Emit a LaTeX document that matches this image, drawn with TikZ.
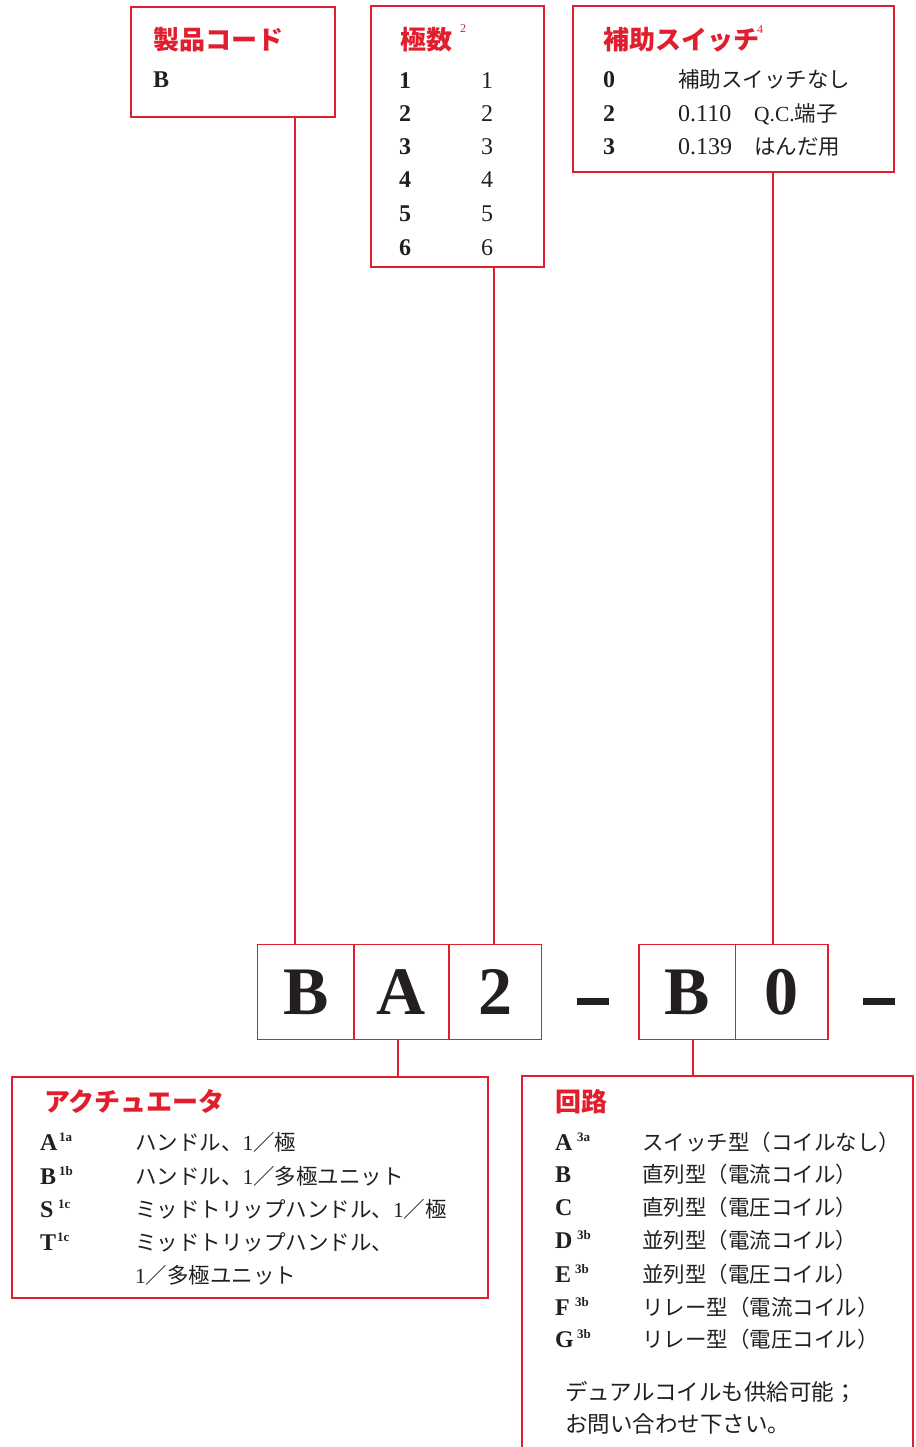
\documentclass[tikz,border=0pt]{standalone}
\usepackage{fontspec}
\setmainfont{Liberation Serif}
\newfontfamily\jp{Noto Sans CJK JP}
\definecolor{boxred}{RGB}{225,30,45}
\definecolor{ink}{RGB}{35,31,32}
\tikzset{
  box/.style={draw=boxred, line width=1.2pt, inner sep=0pt, outer sep=0pt, anchor=north west},
  conn/.style={draw=boxred, line width=1.2pt},
  head/.style={anchor=base west, inner sep=0pt, text=boxred, font=\jp\bfseries\fontsize{26}{26}\selectfont},
  hsup/.style={anchor=base west, inner sep=0pt, text=boxred, font=\fontsize{12}{12}\selectfont},
  lsup/.style={anchor=base west, inner sep=0pt, text=ink, font=\bfseries\fontsize{13}{13}\selectfont},
  lat/.style={anchor=base west, inner sep=0pt, text=ink, font=\bfseries\fontsize{24}{24}\selectfont},
  txt/.style={anchor=base west, inner sep=0pt, text=ink, font=\fontsize{24}{24}\selectfont},
  jt/.style={anchor=base west, inner sep=0pt, text=ink, font=\jp\fontsize{21.5}{21.5}\selectfont},
  code/.style={box, text=ink, font=\bfseries\fontsize{68}{68}\selectfont, minimum height=95},
  dashbar/.style={fill=ink, minimum width=32, minimum height=7, inner sep=0pt, outer sep=0pt}
}
\begin{document}
\begin{tikzpicture}[x=1pt,y=-1pt]
\useasboundingbox (0,0) rectangle (915,1447);
% top boxes
\node[box, minimum width=204, minimum height=110] (b1) at (131,7) {};
\node[box, minimum width=173, minimum height=261] (b2) at (371,6) {};
\node[box, minimum width=321, minimum height=166] (b3) at (573,6) {};
% bottom boxes
\node[box, minimum width=476, minimum height=221] (b4) at (12,1077) {};
\node[box, minimum width=391, minimum height=400] (b5) at (522,1076) {};
% code boxes
\node[code, minimum width=96.5] (c1) at (257.5,944.5) {B};
\node[code, minimum width=95] (c2) at (354,944.5) {A};
\node[code, minimum width=92.5] (c3) at (449,944.5) {2};
\node[code, minimum width=96.5] (c4) at (639,944.5) {B};
\node[code, minimum width=92.5] (c5) at (735.5,944.5) {0};
\node[dashbar] (d1) at (593,1001.5) {};
\node[dashbar] (d2) at (879,1001.5) {};
% connectors
\coordinate (xa) at (295,0);
\coordinate (xb) at (494,0);
\coordinate (xc) at (773,0);
\coordinate (xd) at (398,0);
\coordinate (xe) at (693,0);
\draw[conn] (b1.south -| xa) -- (c1.north -| xa);
\draw[conn] (b2.south -| xb) -- (c3.north -| xb);
\draw[conn] (b3.south -| xc) -- (c5.north -| xc);
\draw[conn] (c2.south -| xd) -- (b4.north -| xd);
\draw[conn] (c4.south -| xe) -- (b5.north -| xe);
% box 1
\node[head] (h1) at (153,50) {製品コード};
\node[lat] (h1b) at (153,88) {B};
% box 2
\node[head] (h2) at (400,50) {極数};
\node[hsup] (h2s) at (460,33) {2};
\foreach \n/\y in {1/89,2/122,3/155,4/188,5/222,6/255}{
  \node[lat] (p\n) at (399,\y) {\n};
  \node[txt] (q\n) at (481,\y) {\n};
}
% box 3
\node[head] (h3) at (603,50) {補助スイッチ};
\node[hsup] (h3s) at (757,34) {4};
\node[lat] (s0) at (603,88) {0};
\node[lat] (s2) at (603,122) {2};
\node[lat] (s3) at (603,155) {3};
\node[jt] (t0) at (678,88) {補助スイッチなし};
\node[txt] (t2) at (678,122) {0.110};
\node[jt] (t2b) at (754,122) {{\rmfamily Q.C.}端子};
\node[txt] (t3) at (678,155) {0.139};
\node[jt] (t3b) at (754,155) {はんだ用};
% box 4
\node[head] (h4) at (44,1111) {アクチュエータ};
\node[lat] (a1) at (40,1150) {A};
\node[lsup] (a1s) at (59,1141.5) {1a};
\node[jt] (a1d) at (135,1150) {ハンドル、{\rmfamily 1}／極};
\node[lat] (a2) at (40,1184) {B};
\node[lsup] (a2s) at (59,1175.5) {1b};
\node[jt] (a2d) at (135,1184) {ハンドル、{\rmfamily 1}／多極ユニット};
\node[lat] (a3) at (40,1217) {S};
\node[lsup] (a3s) at (58,1208.5) {1c};
\node[jt] (a3d) at (135,1217) {ミッドトリップハンドル、{\rmfamily 1}／極};
\node[lat] (a4) at (40,1250) {T};
\node[lsup] (a4s) at (57,1241.5) {1c};
\node[jt] (a4d) at (135,1250) {ミッドトリップハンドル、};
\node[jt] (a5d) at (135,1283) {{\rmfamily 1}／多極ユニット};
% box 5
\node[head] (h5) at (555,1111) {回路};
\node[lat] (r1) at (555,1150) {A};
\node[lsup] (r1s) at (577,1141.5) {3a};
\node[jt] (r1d) at (642,1150) {スイッチ型（コイルなし）};
\node[lat] (r2) at (555,1182) {B};
\node[jt] (r2d) at (642,1182) {直列型（電流コイル）};
\node[lat] (r3) at (555,1215) {C};
\node[jt] (r3d) at (642,1215) {直列型（電圧コイル）};
\node[lat] (r4) at (555,1248) {D};
\node[lsup] (r4s) at (577,1239.5) {3b};
\node[jt] (r4d) at (642,1248) {並列型（電流コイル）};
\node[lat] (r5) at (555,1282) {E};
\node[lsup] (r5s) at (575,1273.5) {3b};
\node[jt] (r5d) at (642,1282) {並列型（電圧コイル）};
\node[lat] (r6) at (555,1315) {F};
\node[lsup] (r6s) at (575,1306.5) {3b};
\node[jt] (r6d) at (642,1315) {リレー型（電流コイル）};
\node[lat] (r7) at (555,1347) {G};
\node[lsup] (r7s) at (577,1338.5) {3b};
\node[jt] (r7d) at (642,1347) {リレー型（電圧コイル）};
\node[jt, font=\jp\fontsize{22.5}{22.5}\selectfont] (n1) at (565,1400) {デュアルコイルも供給可能；};
\node[jt, font=\jp\fontsize{22.5}{22.5}\selectfont] (n2) at (565,1432) {お問い合わせ下さい。};
\end{tikzpicture}
\end{document}
